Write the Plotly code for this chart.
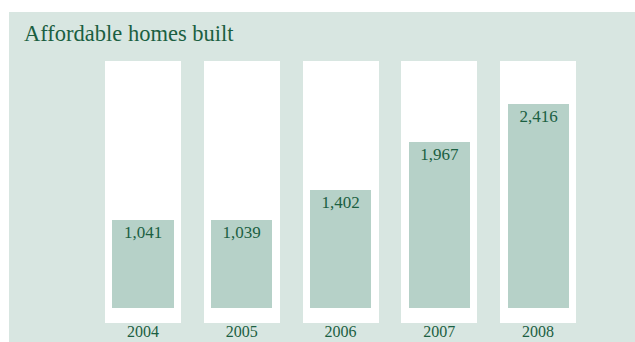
import plotly.graph_objects as go

# Affordable homes built per year
years = ["2004", "2005", "2006", "2007", "2008"]
homes_built = [1041, 1039, 1402, 1967, 2416]

# White backing panels behind each bar (value axis units)
panel_top = 2930
panel_bottom = -178
label_level = -302

BG = "#d8e6e1"
BAR = "#b6d1c8"
TEXT = "#1b5f42"
FONT = "Liberation Serif"

fig = go.Figure()

# backing panels
fig.add_trace(go.Bar(
    x=years,
    y=[panel_top - panel_bottom] * len(years),
    base=[panel_bottom] * len(years),
    width=0.77,
    marker=dict(color="white", line=dict(width=0)),
    hoverinfo="skip",
    showlegend=False,
))

# data bars
fig.add_trace(go.Bar(
    x=years,
    y=homes_built,
    width=0.618,
    marker=dict(color=BAR, line=dict(width=0)),
    text=[f"{v:,}" for v in homes_built],
    textposition="inside",
    insidetextanchor="end",
    textangle=0,
    constraintext="none",
    textfont=dict(family=FONT, size=17, color=TEXT),
    showlegend=False,
))

# year labels under the panels
fig.add_trace(go.Scatter(
    x=years,
    y=[label_level] * len(years),
    mode="text",
    text=years,
    textposition="middle center",
    textfont=dict(family=FONT, size=16, color=TEXT),
    cliponaxis=False,
    hoverinfo="skip",
    showlegend=False,
))

fig.update_layout(
    width=635, height=342,
    margin=dict(l=9, r=0, t=12, b=0),
    paper_bgcolor="white",
    plot_bgcolor=BG,
    barmode="overlay",
    bargap=0,
    title=dict(
        text="Affordable homes built",
        font=dict(family=FONT, size=22.5, color=TEXT),
        xref="container", x=24 / 635, xanchor="left",
        yref="container", y=1 - 33 / 342, yanchor="middle",
    ),
    xaxis=dict(
        type="category", range=[-1.357, 4.982],
        showgrid=False, showticklabels=False, ticks="",
        zeroline=False, showline=False, fixedrange=True,
    ),
    yaxis=dict(
        range=[-403, 3512],
        showgrid=False, showticklabels=False, ticks="",
        zeroline=False, showline=False, fixedrange=True,
    ),
)

fig.write_html("out.html")
